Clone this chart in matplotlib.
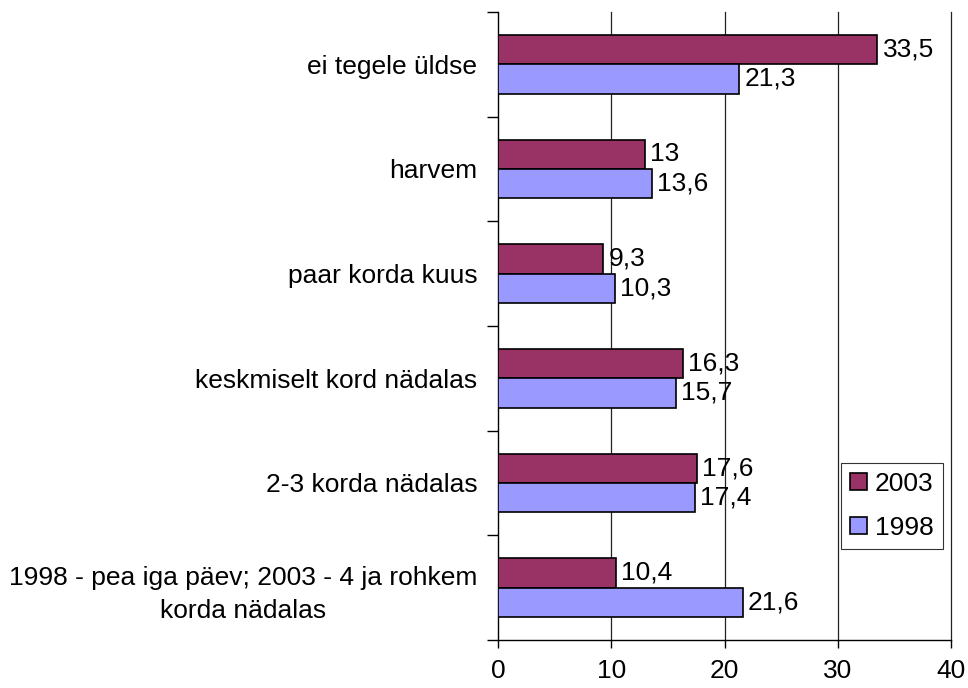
import numpy as np
import matplotlib.pyplot as plt
from matplotlib.ticker import FixedLocator, NullFormatter

plt.rcParams['font.family'] = ['Liberation Sans', 'DejaVu Sans']

categories = ["ei tegele üldse", "harvem", "paar korda kuus",
              "keskmiselt kord nädalas", "2-3 korda nädalas",
              "1998 - pea iga päev; 2003 - 4 ja rohkem\nkorda nädalas"]
vals_2003 = [33.5, 13, 9.3, 16.3, 17.6, 10.4]
vals_1998 = [21.3, 13.6, 10.3, 15.7, 17.4, 21.6]
x_ticks = [0, 10, 20, 30, 40]

FS = 19

def fmt(v):
    return ("%g" % v).replace(".", ",")

fig = plt.figure(figsize=(9.68, 6.88), dpi=100)
ax = fig.add_axes([0.5145, 0.0698, 0.4680, 0.9128])

y = np.arange(len(categories))
h = 0.28
b1 = ax.barh(y - h / 2, vals_2003, height=h, color="#993366", edgecolor="black",
             linewidth=1.2, label="2003", zorder=3)
b2 = ax.barh(y + h / 2, vals_1998, height=h, color="#9999FF", edgecolor="black",
             linewidth=1.2, label="1998", zorder=3)

for bars, vals in ((b1, vals_2003), (b2, vals_1998)):
    for rect, v in zip(bars, vals):
        ax.text(rect.get_width() + 0.45, rect.get_y() + rect.get_height() / 2,
                fmt(v), va="center", ha="left", fontsize=FS)

ax.set_xlim(0, 40)
ax.set_ylim(len(categories) - 0.5, -0.5)
ax.set_xticks(x_ticks)
ax.set_xticklabels([str(t) for t in x_ticks], fontsize=FS)
ax.tick_params(axis="x", length=6, width=1, pad=8)

ax.set_yticks(y)
ax.set_yticklabels(categories, fontsize=FS)
ax.tick_params(axis="y", which="major", length=0, pad=15)
ax.yaxis.set_minor_locator(FixedLocator(np.arange(-0.5, len(categories), 1.0)))
ax.yaxis.set_minor_formatter(NullFormatter())
ax.tick_params(axis="y", which="minor", length=8, width=1)
for lbl in ax.get_yticklabels():
    lbl.set_multialignment("center")
    lbl.set_linespacing(1.45)

for t in x_ticks[1:]:
    ax.axvline(t, color="#222222", linewidth=0.9, zorder=0, clip_on=False)
ax.spines["top"].set_visible(False)
ax.spines["right"].set_visible(False)
ax.spines["left"].set_linewidth(1)
ax.spines["bottom"].set_linewidth(1)

leg = ax.legend(loc="lower right", bbox_to_anchor=(0.982, 0.145), fontsize=FS,
                frameon=True, fancybox=False, edgecolor="black", handlelength=0.65,
                handleheight=0.65, handletextpad=0.3, borderpad=0.35, labelspacing=0.75,
                borderaxespad=0)
leg.get_frame().set_linewidth(0.8)

fig.savefig("out.png", dpi=100)
